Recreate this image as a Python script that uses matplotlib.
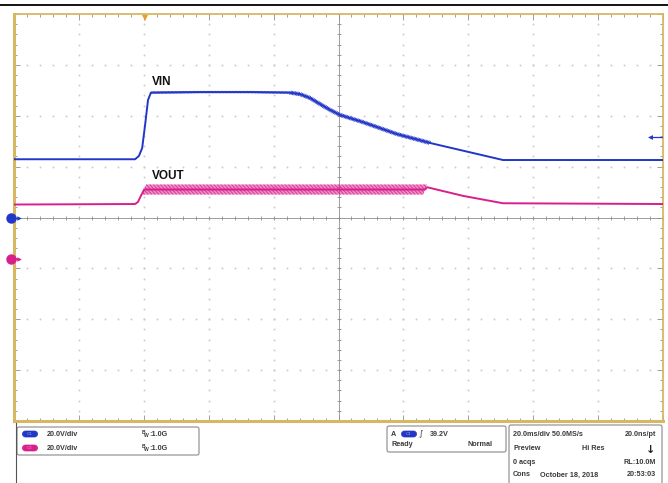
import numpy as np
import matplotlib.pyplot as plt
import matplotlib.patheffects as pe
from matplotlib.patches import FancyBboxPatch

# scope settings
ms_per_div = 20.0
v_per_div = 20.0
ch1_offset = 0.0      # VIN ground marker (V)
ch2_offset = -16.5    # VOUT ground marker (V)
trig_pos = 40.4       # ms
trig_level = 31.6     # V

# VIN trace (time in ms, volts)
vin_t = [0, 37.3, 38.5, 39.5, 40.4, 41.3, 42.2, 57.3, 72.7, 85.0, 88.1, 91.2,
         94.3, 97.4, 100.5, 107.5, 118.0, 128.2, 150.7, 200]
vin_v = [22.9, 22.9, 24.2, 27.3, 36.4, 46.2, 49.1, 49.3, 49.3, 49.1, 48.5, 47.0,
         44.6, 42.3, 40.3, 37.5, 32.8, 29.3, 22.6, 22.6]

# VOUT trace (time in ms, volts above its ground)
vout_t = [0, 37.3, 38.2, 39.1, 40.1, 126.7, 127.3, 138.4, 150.7, 200]
vout_v = [21.6, 21.8, 22.6, 25.0, 27.5, 27.5, 28.4, 25.0, 22.1, 21.8]

# ripple windows (ms) and half amplitude on screen (px)
vin_ripple = [(42.2, 85.0, 0.8), (85.0, 128.2, 1.8)]
vout_ripple = [(40.1, 126.7, 5.0)]

blue = '#2236c8'
pink = '#d81f8c'
frame = '#d8b763'
gridc = '#c8c8c8'
crossc = '#8e8e8e'

W, H = 668, 483
fig = plt.figure(figsize=(W / 100, H / 100), dpi=100)
fig.patch.set_facecolor('white')

ax = fig.add_axes([14 / W, 1 - 421 / H, 649 / W, 407 / H])
ax.set_xlim(0, 10 * ms_per_div)
ax.set_ylim(-4 * v_per_div, 4 * v_per_div)

# frame and edge ticks
for side, sp in ax.spines.items():
    sp.set_color(frame)
    sp.set_linewidth(2.2 if side in ('left', 'bottom') else 1.3)
ax.set_xticks(np.arange(0, 201, ms_per_div))
ax.set_xticks(np.arange(0, 201, ms_per_div / 5), minor=True)
ax.set_yticks(np.arange(-80, 81, v_per_div))
ax.set_yticks(np.arange(-80, 81, v_per_div / 5), minor=True)
ax.tick_params(which='both', direction='in', top=True, right=True,
               labelbottom=False, labelleft=False, color=crossc, width=0.6)
ax.tick_params(which='major', length=4)
ax.tick_params(which='minor', length=2)

# dotted graticule
minor_x = np.arange(0, 201, ms_per_div / 5)
minor_y = np.arange(-80, 81, v_per_div / 5)
for gx in np.arange(ms_per_div, 200, ms_per_div):
    if gx != 100:
        ax.plot(np.full_like(minor_y, gx), minor_y, ls='none', marker='s',
                ms=1.2, mew=0, color=gridc, zorder=1)
for gy in np.arange(-60, 61, v_per_div):
    if gy != 0:
        ax.plot(minor_x, np.full_like(minor_x, gy), ls='none', marker='s',
                ms=1.2, mew=0, color=gridc, zorder=1)

# centre cross with ticks
ax.axvline(100, color=crossc, lw=0.6, zorder=2)
ax.axhline(0, color=crossc, lw=0.6, zorder=2)
ax.plot(minor_x, np.zeros_like(minor_x), ls='none', marker='|', ms=3.5,
        mew=0.6, color=crossc, zorder=2)
ax.plot(np.full_like(minor_y, 100), minor_y, ls='none', marker='_', ms=3.5,
        mew=0.6, color=crossc, zorder=2)


def ripple(t, y, windows, color):
    t = np.asarray(t)
    y = np.asarray(y)
    for t0, t1, amp in windows:
        m = (t >= t0) & (t <= t1)
        sp = 1.0
        ln = amp / (sp * 100 / 72)
        ax.plot(t[m], y[m], color=color, lw=0.6, zorder=4,
                path_effects=[pe.TickedStroke(angle=70, spacing=sp, length=ln),
                              pe.TickedStroke(angle=-110, spacing=sp, length=ln)])


vin_y = np.array(vin_v) + ch1_offset
vout_y = np.array(vout_v) + ch2_offset
ax.plot(vin_t, vin_y, color=blue, lw=1.4, zorder=5)
ax.plot(vout_t, vout_y, color=pink, lw=1.4, zorder=5)
ripple(vin_t, vin_y, vin_ripple, blue)
ripple(vout_t, vout_y, vout_ripple, pink)

ax.text(42.5, 53.3, 'VIN', fontsize=8.5, fontweight='bold', family='Liberation Sans',
        ha='left', va='center', color='#111111')
ax.text(42.5, 16.3, 'VOUT', fontsize=8.5, fontweight='bold', family='Liberation Sans',
        ha='left', va='center', color='#111111')

# ground markers, trigger markers
for off, c in [(ch1_offset, blue), (ch2_offset, pink)]:
    ax.plot([-0.9], [off], marker='o', ms=7.5, color=c, mew=0, clip_on=False, zorder=8)
    ax.plot([1.6], [off], marker='>', ms=3.2, color=c, mew=0, clip_on=False, zorder=8)
    ax.plot([-0.9, 1.6], [off, off], color=c, lw=1, clip_on=False, zorder=8)
ax.plot([trig_pos], [78.3], marker='v', ms=4.5, color='#e3a02a', mew=0,
        clip_on=False, zorder=8)
ax.plot([196.0], [trig_level], marker='<', ms=3.5, color=blue, mew=0, clip_on=False, zorder=8)
ax.plot([196.0, 200.0], [trig_level, trig_level], color=blue, lw=0.9, zorder=8)

# overlay in pixel coordinates for the status bar
ov = fig.add_axes([0, 0, 1, 1], zorder=10)
ov.set_xlim(0, W)
ov.set_ylim(H, 0)
ov.axis('off')
ov.patch.set_alpha(0)

ov.plot([0, W], [5, 5], color='black', lw=1.3)
ov.plot([16, 16], [423, H], color='#555555', lw=0.8)

txt = dict(fontsize=5.2, fontweight='bold', family='Liberation Sans',
           color='#3a3a3a', va='center')
small = dict(fontsize=3.6, fontweight='bold', family='Liberation Sans',
             color='#3a3a3a', va='center', ha='left')


def box(x0, y0, x1, y1):
    ov.add_patch(FancyBboxPatch((x0, y0), x1 - x0, y1 - y0,
                                boxstyle='round,pad=0,rounding_size=2',
                                fc='white', ec='#8a8a8a', lw=0.8))


def pill(xc, yc, c, label):
    ov.add_patch(FancyBboxPatch((xc - 7.5, yc - 3), 15, 6,
                                boxstyle='round,pad=0,rounding_size=3',
                                fc=c, ec=c, lw=0.5))
    ov.text(xc, yc, label, fontsize=3.2, color='#9aa0e8' if c == blue else '#f090c8',
            ha='center', va='center', family='DejaVu Sans')


def bw(x, y, value):
    ov.text(x, y - 2, 'B', **small)
    ov.text(x + 2.5, y + 1.5, 'W', **small)
    ov.text(x + 7, y, ':' + value, ha='left', **txt)


# channel box
box(17, 427, 199, 455)
for yy, c, lab in [(434, blue, 'C1'), (448, pink, 'C2')]:
    pill(30, yy, c, lab)
    ov.text(47, yy, '20.0V/div', ha='left', **txt)
    bw(142, yy, '1.0G')

# trigger box
box(387, 426, 506, 452)
ov.text(391, 434, 'A', ha='left', **txt)
pill(409, 434, blue, 'C1')
ov.text(419, 433, '\u222b', ha='left', fontsize=6, color='#3a3a3a', va='center',
        family='DejaVu Sans')
ov.text(430, 434, '39.2V', ha='left', **txt)
ov.text(391, 445, 'Ready', ha='left', **txt)
ov.text(493, 445, 'Normal', ha='right', **txt)

# acquisition box
box(509, 425, 662, 490)
ov.text(513, 435, '20.0ms/div 50.0MS/s', ha='left', **txt)
ov.text(656, 435, '20.0ns/pt', ha='right', **txt)
ov.text(513, 449, 'Preview', ha='left', **txt)
ov.text(593, 449, 'Hi Res', ha='center', **txt)
ov.text(651, 450, '\u2193', ha='center', fontsize=8, fontweight='bold',
        color='#222222', va='center', family='DejaVu Sans')
ov.text(513, 462, '0 acqs', ha='left', **txt)
ov.text(656, 462, 'RL:10.0M', ha='right', **txt)
ov.text(513, 475, 'Cons', ha='left', **txt)
ov.text(540, 475, 'October 18, 2018', ha='left', **txt)
ov.text(656, 475, '20:53:03', ha='right', **txt)

fig.savefig('out.png', dpi=100)
